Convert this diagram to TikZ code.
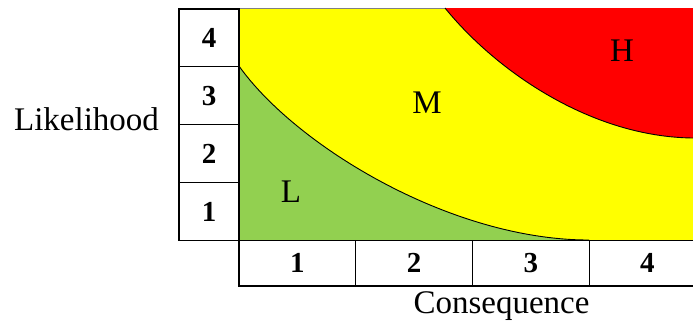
\documentclass[tikz,border=0pt]{standalone}
\usepackage{fontspec}
\setmainfont{Liberation Serif}
\definecolor{riskgreen}{HTML}{92D050}
\definecolor{riskyellow}{HTML}{FFFF00}
\definecolor{riskred}{HTML}{FF0000}
\begin{document}
\begin{tikzpicture}[x=1pt,y=-1pt,
  cell/.style={draw=black, line width=1.1pt, fill=white, inner sep=0pt,
    font=\fontsize{29}{32}\selectfont\bfseries},
  lcell/.style={cell, minimum width=60pt, minimum height=57.9pt},
  bcell/.style={cell, minimum width=116.7pt, minimum height=45.5pt},
  zone/.style={font=\fontsize{33}{36}\selectfont, inner sep=0pt},
  axis/.style={font=\fontsize{33}{36}\selectfont, inner sep=0pt},
  edge/.style={draw=black, line width=0.9pt}]
\useasboundingbox (0,0) rectangle (693,325);
% main area
\fill[riskyellow] (239,8) rectangle (700,240);
\draw[gray, line width=0.8pt] (239,8) -- (700,8);
% corner coordinates of curves
\coordinate (hs) at (445,8);
\coordinate (he) at (693,138);
\coordinate (ls) at (239,66);
\coordinate (le) at (589,240);
% red zone
\fill[riskred] (hs) .. controls (497,72) and (592,137) .. (he) -- (700,138) -- (700,8) -- cycle;
\draw[edge] (hs) .. controls (497,72) and (592,137) .. (he) -- (700,138);
% green zone
\fill[riskgreen] (ls) .. controls (295,145) and (450,240) .. (le) -- (239,240) -- cycle;
\draw[edge] (ls) .. controls (295,145) and (450,240) .. (le);
% likelihood cells
\node[lcell] (l4) at (209,37.95) {4};
\node[lcell] (l3) at (209,95.85) {3};
\node[lcell] (l2) at (209,153.75) {2};
\node[lcell] (l1) at (209,211.65) {1};
% consequence cells
\node[bcell] (c1) at (297.35,263.25) {1};
\node[bcell] (c2) at (414.05,263.25) {2};
\node[bcell] (c3) at (530.75,263.25) {3};
\node[bcell] (c4) at (647.45,263.25) {4};
% zone labels
\node[zone] (zl) at (291,192) {L};
\node[zone] (zm) at (427,103) {M};
\node[zone] (zh) at (622,51) {H};
% axis labels
\node[axis] (likelihood) at (86.5,119) {Likelihood};
\node[axis] (consequence) at (501.5,306) {Consequence};
\end{tikzpicture}
\end{document}
